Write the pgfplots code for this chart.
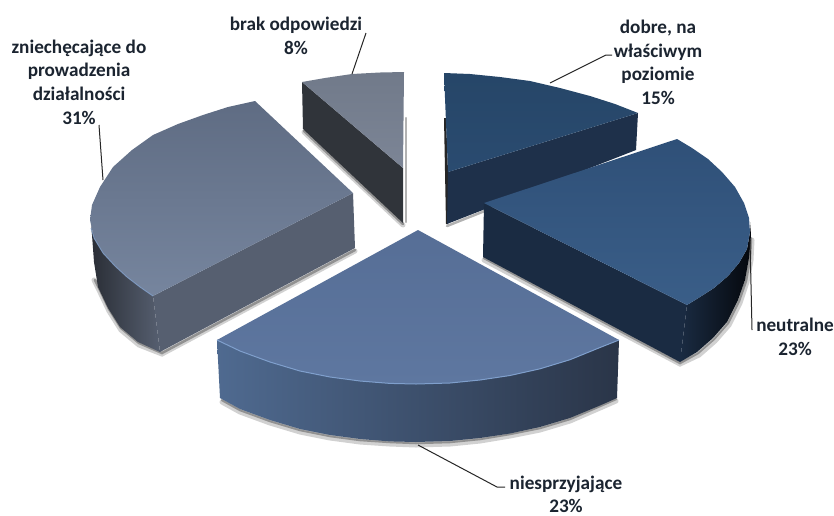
\documentclass[border=0pt]{standalone}
\usepackage{fontspec}
\setmainfont{Carlito}
\usepackage{pgfplots}
\pgfplotsset{compat=1.18}
\definecolor{txt}{HTML}{1B2430}
\definecolor{HTML1}{HTML}{1E304A}
\definecolor{HTML2}{HTML}{264668}
\definecolor{HTML3}{HTML}{2A4B70}
\definecolor{HTML4}{HTML}{30343A}
\definecolor{HTML5}{HTML}{717A8A}
\definecolor{HTML6}{HTML}{7C8596}
\definecolor{HTML7}{HTML}{2A2E36}
\definecolor{HTML8}{HTML}{6C7485}
\definecolor{HTML9}{HTML}{565F70}
\definecolor{HTML10}{HTML}{5F6C83}
\definecolor{HTML11}{HTML}{76859E}
\definecolor{HTML12}{HTML}{7F9FCC}
\definecolor{HTML13}{HTML}{1A2B42}
\definecolor{HTML14}{HTML}{16233A}
\definecolor{HTML15}{HTML}{05080D}
\definecolor{HTML16}{HTML}{2F5078}
\definecolor{HTML17}{HTML}{3A5E88}
\definecolor{HTML18}{HTML}{4F6A90}
\definecolor{HTML19}{HTML}{3F5373}
\definecolor{HTML20}{HTML}{2A3548}
\definecolor{HTML21}{HTML}{566E96}
\definecolor{HTML22}{HTML}{5E77A0}
\tikzset{lab/.style={align=center,text=txt,font=\bfseries\fontsize{19.2}{23.6}\selectfont,inner sep=0pt}}
\pgfplotsset{
 sh1/.style={draw=black,draw opacity=.18,line width=5pt,line cap=round},
 sh2/.style={draw=black,draw opacity=.30,line width=2.5pt,line cap=round},
 lead/.style={draw=black!85,line width=1pt},
 hi/.style={line width=1pt}
}
\begin{document}
\begin{tikzpicture}
\path[use as bounding box,fill=white] (0,0) rectangle (834pt,515pt);
\begin{axis}[at={(0,0)},anchor=south west,scale only axis,width=834pt,height=515pt,
 xmin=0,xmax=834,ymin=0,ymax=515,y dir=reverse,hide axis,clip=false]
% shadows
\addplot[sh1] coordinates {(222,402)(240,412)(270,423)(300,432)(330,438)(360,442)(390,444)(416,445)(450,444)(480,441)(510,436)(540,430)(570,421)(600,408)(616,401)};
\addplot[sh2] coordinates {(222,400)(240,410)(270,421)(300,430)(330,436)(360,440)(390,442)(416,443)(450,442)(480,439)(510,434)(540,428)(570,419)(600,406)(616,399)};
\addplot[sh1] coordinates {(484,260)(680,364)(699,355)(715,341)(729,325)(740,303)(747,282)(751,260)(752,240)};
\addplot[sh2] coordinates {(484,258)(680,363)(698,353)(714,339)(728,323)(739,301)(746,281)(750,259)(751,238)};
\addplot[sh1] coordinates {(94,280)(99,290)(109,311)(121,330)(139,345)(162,354)(355,251)};
\addplot[sh2] coordinates {(95,280)(99,288)(109,309)(121,328)(139,343)(162,353)(355,250)};
\addplot[sh1] coordinates {(304,132)(403,225)};
\addplot[sh2] coordinates {(304,131)(403,224)};
\addplot[sh2] coordinates {(406,118)(406,222)};
\addplot[sh2] coordinates {(447,226)(560,181)};
% slice 1: dobre
\addplot[fill=black!85,draw=none] coordinates {(444,118)(446,118)(448,172)(448,224)(446,224)} --cycle;
\addplot[fill=HTML1,draw=none] coordinates {(448,172)(638,113)(636,150)(447,224)} --cycle;
\addplot[shade,top color=HTML2,bottom color=HTML3,draw=none] coordinates {(444,73)(470,74)(500,77)(530,81)(560,88)(590,96)(615,104)(638,113)(448,172)} --cycle;
% slice 5: brak
\addplot[fill=HTML4,draw=none] coordinates {(302,82)(403,168)(403,223)(303,129)} --cycle;
\addplot[shade,top color=HTML5,bottom color=HTML6,draw=none] coordinates {(302,82)(325,78)(352,74)(380,72.5)(404,72)(403,168)} --cycle;
% slice 4: zniechecajace
\addplot[shade,left color=HTML7,middle color=HTML8,right color=HTML9,draw=none] coordinates {(153,296)(140,287)(127,277)(115,266)(103,253)(94,238)(91,225)(92,235)(94,262)(98,287)(108,308)(120,327)(138,342)(160,352)} --cycle;
\addplot[fill=HTML9,draw=none] coordinates {(353,193)(355,248)(160,352)(153,296)} --cycle;
\addplot[shade,top color=HTML10,bottom color=HTML11,draw=none] coordinates {(255,101)(228,107)(203,115)(178,124)(153,135)(132,150)(113,167)(100,187)(92,205)(90,220)(94,238)(103,253)(115,266)(127,277)(140,287)(153,296)(353,193)} --cycle;
\addplot[draw=HTML12,hi,draw opacity=.7] coordinates {(91,228)(94,238)(103,253)(115,266)(127,277)(140,287)(153,296)};
% slice 2: neutralne
\addplot[shade,left color=HTML13,middle color=HTML14,right color=HTML15,draw=none] coordinates {(687,305)(700,297)(714,288)(728,276)(739,263)(747,249)(750,232)(750,222)(751,235)(749,258)(745,280)(738,300)(727,322)(713,338)(697,352)(680,362)} --cycle;
\addplot[fill=HTML13,draw=none] coordinates {(484,203)(687,305)(680,362)(483,257)} --cycle;
\addplot[shade,top color=HTML16,bottom color=HTML17,draw=none] coordinates {(677,139)(692,148)(708,159)(722,172)(735,187)(744,203)(749,218)(750,232)(747,249)(739,263)(728,276)(714,288)(700,297)(687,305)(484,203)} --cycle;
% slice 3: niesprzyjajace
\addplot[shade,left color=HTML18,middle color=HTML19,right color=HTML20,draw=none] coordinates {(217,340)(240,351)(270,362)(300,371)(330,377)(360,381)(390,383.4)(416,384)(450,383)(480,380)(510,375.5)(540,368.8)(570,359.7)(600,347.5)(619,340)(617,398)(600,405.5)(570,418)(540,427)(510,433.5)(480,438)(450,441)(416,442)(390,441.4)(360,439)(330,435)(300,429)(270,420)(240,409)(220,398)} --cycle;
\addplot[shade,top color=HTML21,bottom color=HTML22,draw=none] coordinates {(418,230)(619,340)(600,347.5)(570,359.7)(540,368.8)(510,375.5)(480,380)(450,383)(416,384)(390,383.4)(360,381)(330,377)(300,371)(270,362)(240,351)(217,340)} --cycle;
\addplot[draw=HTML12,hi] coordinates {(217,340)(240,351)(270,362)(300,371)(330,377)(360,381)(390,383.4)(416,384)(450,383)(480,380)(510,375.5)(540,368.8)(570,359.7)(600,347.5)(619,340)};
% leaders
\addplot[lead] coordinates {(550,83)(606,55)(612,55)};
\addplot[lead] coordinates {(750,240)(752,330)};
\addplot[lead] coordinates {(418,445)(497,487)(505,487)};
\addplot[lead] coordinates {(103,180)(99,125)};
\addplot[lead] coordinates {(352,74)(366,33)};
% labels
\node[lab] at (axis cs:658,62.5) {dobre, na\\właściwym\\poziomie\\15\%};
\node[lab] at (axis cs:795,337) {neutralne\\23\%};
\node[lab] at (axis cs:566,494.5) {niesprzyjające\\23\%};
\node[lab] at (axis cs:79,82) {zniechęcające do\\prowadzenia\\działalności\\31\%};
\node[lab] at (axis cs:296,36) {brak odpowiedzi\\8\%};
\end{axis}
\end{tikzpicture}
\end{document}
